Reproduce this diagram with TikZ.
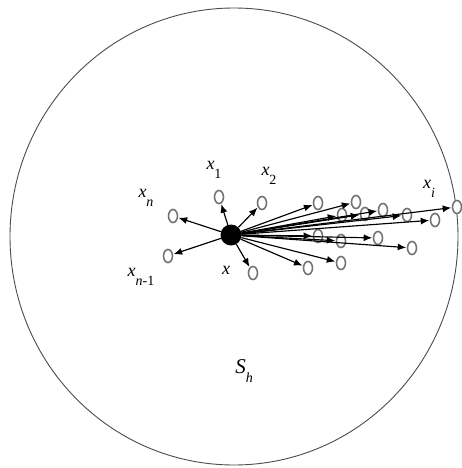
\documentclass[tikz,border=0pt]{standalone}
\usepackage{fontspec}
\setmainfont{Liberation Serif}
\usetikzlibrary{shapes.geometric,arrows.meta}
\begin{document}
\begin{tikzpicture}[x=1pt,y=-1pt,
  pt/.style={draw=black!55,line width=1.6pt,ellipse,minimum width=9pt,minimum height=13pt,inner sep=0pt,fill=white},
  ray/.style={line width=1.15pt,-{Latex[length=8.5pt,width=7pt]},shorten >=0.5pt},
  lab/.style={font=\fontsize{18}{18}\selectfont\itshape,inner sep=0pt}]
\newcommand\mysub[1]{\raisebox{-1.1ex}{\fontsize{14}{14}\selectfont #1}}
\useasboundingbox (0,0) rectangle (461,468);
\fill[white] (0,0) rectangle (461,468);
\node[draw=black!70,line width=0.9pt,ellipse,minimum width=448pt,minimum height=457pt,inner sep=0pt] (sh) at (234,236.5) {};
% points
\node[pt] (p1) at (219,197) {};
\node[pt] (p2) at (262,203) {};
\node[pt] (pn) at (173,216) {};
\node[pt] (pn1) at (168,256) {};
\node[pt] (px) at (253,273) {};
\node[pt] (a1) at (318,203) {};
\node[pt] (a2) at (356,202) {};
\node[pt] (a3) at (342,215) {};
\node[pt] (a4) at (365,214) {};
\node[pt] (a5) at (383,210) {};
\node[pt] (a6) at (407,215) {};
\node[pt] (pi) at (457,207) {};
\node[pt] (a8) at (435,220) {};
\node[pt] (b1) at (318,236) {};
\node[pt] (b2) at (341,241) {};
\node[pt] (b3) at (378,238) {};
\node[pt] (b4) at (412,248) {};
\node[pt] (b5) at (308,268) {};
\node[pt] (b6) at (341,263) {};
\node[circle,fill=black,minimum size=21pt,inner sep=0pt] (c) at (231,235) {};
% rays
\foreach \t in {p1,p2,pn,pn1,px,a1,a2,a3,a4,a5,a6,pi,a8,b1,b2,b3,b4,b5,b6}
  \draw[ray] (c) -- (\t);
% labels
\node[lab] (l1) at (214,170) {x\mysub{\upshape 1}};
\node[lab] (l2) at (269,176) {x\mysub{\upshape 2}};
\node[lab] (ln) at (146,198) {x\mysub{n}};
\node[lab] (ln1) at (141,277) {x\mysub{n\upshape -1}};
\node[lab] (lx) at (226,270) {x};
\node[lab] (li) at (429,189) {x\mysub{i}};
\node[font=\fontsize{21}{21}\selectfont\itshape,inner sep=0pt] (ls) at (244,371) {S\raisebox{-1ex}{\fontsize{14}{14}\selectfont h}};
\end{tikzpicture}
\end{document}
